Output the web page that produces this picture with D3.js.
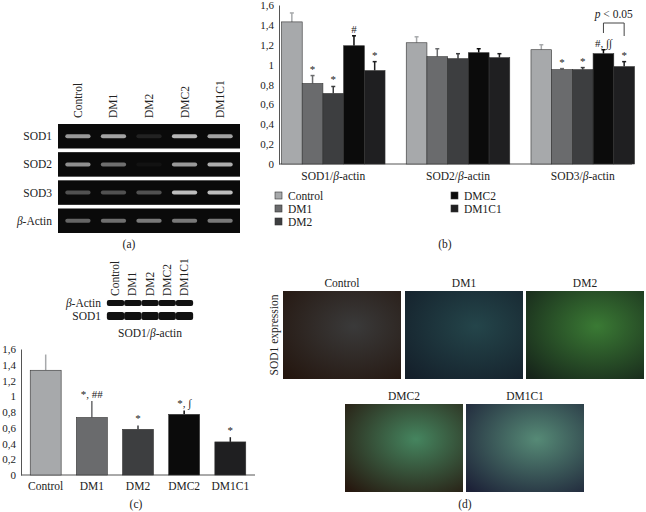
<!DOCTYPE html>
<html>
<head>
<style>
  body { margin: 0; background: #fff; }
  svg text { font-family: "Liberation Serif", "Times New Roman", "DejaVu Serif", serif !important; fill: #222; }
</style>
</head>
<body>
<div id="fig"></div>
<script src="https://d3js.org/d3.v7.min.js"></script>
<script>
const groups = ["Control", "DM1", "DM2", "DMC2", "DM1C1"];
const colors = ["#a7a9ab", "#6a6b6d", "#3d3e40", "#0b0b0b", "#1f1f21"];
const genes = ["SOD1", "SOD2", "SOD3"];
// panel (b): means and upper error ends per gene
const bMeans = [[1.43, 0.81, 0.71, 1.19, 0.94], [1.22, 1.08, 1.06, 1.12, 1.07], [1.15, 0.95, 0.95, 1.11, 0.98]];
const bErrTop = [[1.52, 0.89, 0.78, 1.29, 1.03], [1.28, 1.16, 1.11, 1.16, 1.11], [1.20, 0.96, 0.97, 1.15, 1.03]];
const bMarks = [["", "*", "*", "#", "*"], ["", "", "", "", ""], ["", "*", "*", "#, ∫∫", "*"]];
// panel (c)
const cMeans = [1.33, 0.73, 0.58, 0.77, 0.42];
const cErrTop = [1.53, 0.94, 0.63, 0.82, 0.48];
const cMarks = ["", "*, ##", "*", "*, ∫", "*"];
const yTicks = [0, 0.2, 0.4, 0.6, 0.8, 1, 1.2, 1.4, 1.6];
// gel band intensities (a) rows: SOD1, SOD2, SOD3, beta-actin
const gelRows = ["SOD1", "SOD2", "SOD3", "β-Actin"];
const gelBands = [[0.7, 0.75, 0.15, 0.85, 0.75], [0.65, 0.5, 0.08, 0.7, 0.8], [0.35, 0.35, 0.35, 0.9, 0.9], [0.45, 0.5, 0.55, 0.55, 0.55]];

const FS = "11.5px";
const fmt = d => String(d).replace(".", ",");
const svg = d3.select("#fig").append("svg").attr("width", 646).attr("height", 512);

function barChart(g, x0, x1, y0, y1) {
  const y = d3.scaleLinear().domain([0, 1.6]).range([y0, y1]);
  g.append("g").attr("transform", `translate(${x0},0)`)
    .call(d3.axisLeft(y).tickValues(yTicks).tickFormat(fmt).tickSize(0).tickPadding(5))
    .call(a => a.selectAll("text").style("font-size", "11px"))
    .call(a => a.select(".domain").attr("stroke", "#555"));
  g.append("line").attr("x1", x0).attr("x2", x1).attr("y1", y0).attr("y2", y0).attr("stroke", "#555");
  return y;
}

// ---- panel (b)
const gb = svg.append("g");
const yb = barChart(gb, 279, 632, 164, 5);
const xg = d3.scaleBand().domain(genes).range([279, 637]).paddingInner(0.17).paddingOuter(0.02);
const xi = d3.scaleBand().domain(groups).range([0, xg.bandwidth()]);
genes.forEach((gene, gi) => {
  const gg = gb.append("g").attr("transform", `translate(${xg(gene)},0)`);
  groups.forEach((grp, i) => {
    const bx = xi(grp), w = xi.bandwidth();
    gg.append("line").attr("x1", bx + w / 2).attr("x2", bx + w / 2)
      .attr("y1", yb(bMeans[gi][i])).attr("y2", yb(bErrTop[gi][i])).attr("stroke", colors[i]).attr("stroke-width", 1.5);
    gg.append("line").attr("x1", bx + w / 2 - 2).attr("x2", bx + w / 2 + 2)
      .attr("y1", yb(bErrTop[gi][i])).attr("y2", yb(bErrTop[gi][i])).attr("stroke", colors[i]).attr("stroke-width", 1.5);
    gg.append("rect").attr("x", bx).attr("width", w).attr("y", yb(bMeans[gi][i]))
      .attr("height", yb(0) - yb(bMeans[gi][i])).attr("fill", colors[i]).attr("stroke", "#333").attr("stroke-width", 0.6);
    if (bMarks[gi][i]) gg.append("text").attr("x", bx + w / 2).attr("y", yb(bErrTop[gi][i]) - 3)
      .attr("text-anchor", "middle").style("font-size", "11px").text(bMarks[gi][i]);
  });
  gb.append("text").attr("x", xg(gene) + xg.bandwidth() / 2).attr("y", 180).attr("text-anchor", "middle")
    .style("font-size", FS).html(`${gene}/<tspan font-style="italic">β</tspan>-actin`);
});
// bracket p < 0.05
{
  const gx = xg("SOD3");
  const a = gx + xi("DMC2") + xi.bandwidth() / 2, b = gx + xi("DM1C1") + xi.bandwidth() / 2;
  gb.append("path").attr("d", `M${a},33V23H${b}V36`).attr("fill", "none").attr("stroke", "#444");
  gb.append("text").attr("x", (a + b) / 2).attr("y", 18).attr("text-anchor", "middle").style("font-size", FS)
    .html(`<tspan font-style="italic">p</tspan> &lt; 0.05`);
}
// legend
const legPos = [[275, 196], [275, 209], [275, 222], [451, 196], [451, 209]];
groups.forEach((grp, i) => {
  gb.append("rect").attr("x", legPos[i][0]).attr("y", legPos[i][1] - 4).attr("width", 7).attr("height", 7)
    .attr("fill", colors[i]).attr("stroke", "#333").attr("stroke-width", 0.6);
  gb.append("text").attr("x", legPos[i][0] + 13).attr("y", legPos[i][1] + 4).style("font-size", FS).text(grp);
});
gb.append("text").attr("x", 445).attr("y", 248).attr("text-anchor", "middle").style("font-size", FS).text("(b)");

// ---- panel (c)
const gc = svg.append("g");
const yc = barChart(gc, 21, 255, 475, 349);
const xc = d3.scaleBand().domain(groups).range([21, 255]).paddingInner(0.33).paddingOuter(0.2);
groups.forEach((grp, i) => {
  const bx = xc(grp), w = xc.bandwidth();
  gc.append("line").attr("x1", bx + w / 2).attr("x2", bx + w / 2)
    .attr("y1", yc(cMeans[i])).attr("y2", yc(cErrTop[i])).attr("stroke", colors[i]).attr("stroke-width", 1.5);
  gc.append("rect").attr("x", bx).attr("width", w).attr("y", yc(cMeans[i]))
    .attr("height", yc(0) - yc(cMeans[i])).attr("fill", colors[i]).attr("stroke", "#333").attr("stroke-width", 0.6);
  if (cMarks[i]) gc.append("text").attr("x", bx + w / 2).attr("y", yc(cErrTop[i]) - 3)
    .attr("text-anchor", "middle").style("font-size", "11px").text(cMarks[i]);
  gc.append("text").attr("x", bx + w / 2).attr("y", 490).attr("text-anchor", "middle").style("font-size", FS).text(grp);
});
gc.append("text").attr("x", 136).attr("y", 508).attr("text-anchor", "middle").style("font-size", FS).text("(c)");

// ---- panel (a) gel
const ga = svg.append("g");
const lanes = d3.scaleBand().domain(groups).range([58, 240]).padding(0.12);
const rowY = d3.scaleBand().domain(gelRows).range([124, 233]).paddingInner(0.13);
gelRows.forEach((row, r) => {
  ga.append("rect").attr("x", 58).attr("y", rowY(row)).attr("width", 182).attr("height", rowY.bandwidth()).attr("fill", "#0a0a0a");
  groups.forEach((grp, i) => {
    const v = gelBands[r][i];
    ga.append("rect").attr("x", lanes(grp) + 3).attr("width", lanes.bandwidth() - 6)
      .attr("y", rowY(row) + rowY.bandwidth() / 2 - 2).attr("height", 4).attr("rx", 2)
      .attr("fill", d3.interpolateGreys(1 - v * 0.8)).attr("opacity", 0.9);
  });
  ga.append("text").attr("x", 52).attr("y", rowY(row) + rowY.bandwidth() / 2 + 4).attr("text-anchor", "end")
    .style("font-size", FS).html(r === 3 ? `<tspan font-style="italic">β</tspan>-Actin` : row);
});
groups.forEach(grp => {
  ga.append("text").attr("transform", `translate(${lanes(grp) + lanes.bandwidth() / 2 + 4},118) rotate(-90)`)
    .style("font-size", FS).text(grp);
});
ga.append("text").attr("x", 129).attr("y", 248).attr("text-anchor", "middle").style("font-size", FS).text("(a)");

// ---- western blot
const wl = d3.scaleBand().domain(groups).range([106, 193]).padding(0.05);
groups.forEach(grp => {
  ga.append("text").attr("transform", `translate(${wl(grp) + wl.bandwidth() / 2 + 4},296) rotate(-90)`)
    .style("font-size", FS).text(grp);
  ga.append("rect").attr("x", wl(grp)).attr("y", 300).attr("width", wl.bandwidth() + 1).attr("height", 6).attr("rx", 2).attr("fill", "#111");
  ga.append("rect").attr("x", wl(grp)).attr("y", 312).attr("width", wl.bandwidth() + 1).attr("height", 8).attr("rx", 2).attr("fill", "#111");
});
ga.append("text").attr("x", 101).attr("y", 307).attr("text-anchor", "end").style("font-size", FS)
  .html(`<tspan font-style="italic">β</tspan>-Actin`);
ga.append("text").attr("x", 101).attr("y", 320).attr("text-anchor", "end").style("font-size", FS).text("SOD1");
ga.append("text").attr("x", 150).attr("y", 337).attr("text-anchor", "middle").style("font-size", FS)
  .html(`SOD1/<tspan font-style="italic">β</tspan>-actin`);

// ---- panel (d) micrographs
const micro = [
  { name: "Control", x: 283, y: 291, c1: "#24160f", c2: "#3a3a3a" },
  { name: "DM1", x: 405, y: 291, c1: "#141f2a", c2: "#24454a" },
  { name: "DM2", x: 526, y: 291, c1: "#16241a", c2: "#3a7a34" },
  { name: "DMC2", x: 345, y: 404, c1: "#26180f", c2: "#45855f" },
  { name: "DM1C1", x: 466, y: 404, c1: "#1d2238", c2: "#568a76" }
];
const defs = svg.append("defs");
micro.forEach((m, i) => {
  const gr = defs.append("radialGradient").attr("id", "mg" + i).attr("cx", "60%").attr("cy", "40%").attr("r", "80%");
  gr.append("stop").attr("offset", "0%").attr("stop-color", m.c2);
  gr.append("stop").attr("offset", "100%").attr("stop-color", m.c1);
  svg.append("rect").attr("x", m.x).attr("y", m.y).attr("width", 118).attr("height", 88).attr("fill", `url(#mg${i})`);
  svg.append("text").attr("x", m.x + 59).attr("y", m.y - 4).attr("text-anchor", "middle").style("font-size", FS).text(m.name);
});
svg.append("text").attr("transform", "translate(278,335) rotate(-90)").attr("text-anchor", "middle")
  .style("font-size", FS).text("SOD1 expression");
svg.append("text").attr("x", 465).attr("y", 508).attr("text-anchor", "middle").style("font-size", FS).text("(d)");
</script>
</body>
</html>
